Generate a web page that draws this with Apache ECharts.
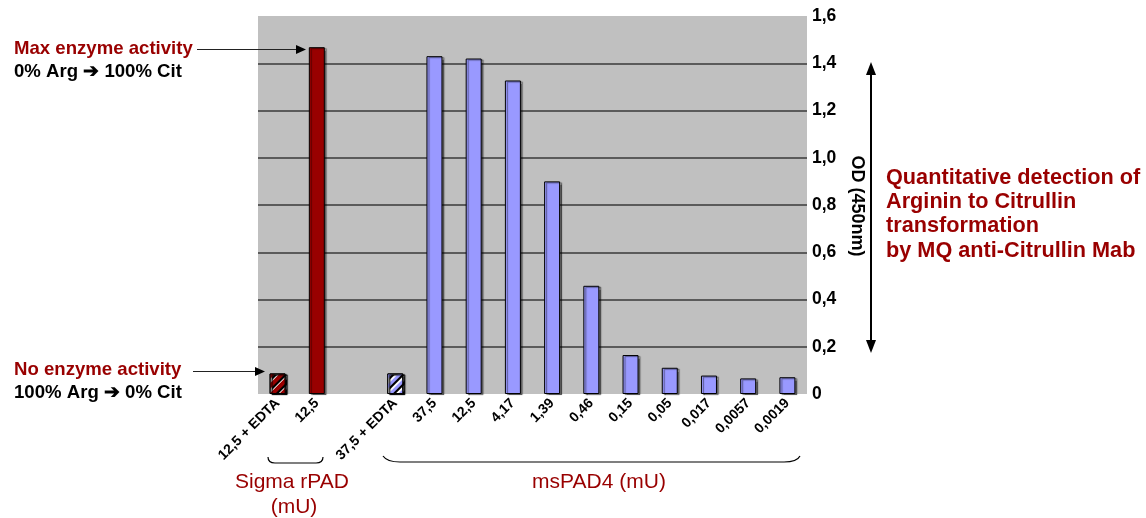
<!DOCTYPE html>
<html>
<head>
<meta charset="utf-8">
<script src="https://cdn.jsdelivr.net/npm/echarts@6/dist/echarts.min.js"></script>
<style>
html,body{margin:0;padding:0;background:#fff;}
#chart{width:1146px;height:518px;}
</style>
</head>
<body>
<div id="chart"></div>
<script>
// ---- data ----
const categories = ['12,5 + EDTA', '12,5', '', '37,5 + EDTA', '37,5', '12,5', '4,17', '1,39', '0,46', '0,15', '0,05', '0,017', '0,0057', '0,0019'];
const odValues   = [0.087, 1.468, null, 0.087, 1.43, 1.42, 1.327, 0.90, 0.458, 0.165, 0.111, 0.078, 0.066, 0.071];
const barKinds   = ['redHatch', 'red', 'none', 'blueHatch', 'blue', 'blue', 'blue', 'blue', 'blue', 'blue', 'blue', 'blue', 'blue', 'blue'];
const yMin = 0, yMax = 1.6, yStep = 0.2;

const FONT = '"Liberation Sans", Arial, Helvetica, sans-serif';
const RED = '#990000', BLUE = '#9999ff';

function styleFor(kind) {
  const base = { borderColor: '#000', borderWidth: 1, shadowColor: 'rgba(0,0,0,0.45)', shadowOffsetX: 2, shadowOffsetY: 1, shadowBlur: 1 };
  if (kind === 'red') return Object.assign({ color: RED }, base);
  if (kind === 'blue') return Object.assign({ color: BLUE }, base);
  if (kind === 'redHatch') return Object.assign({ color: '#ffffff', decal: { symbol: 'rect', symbolSize: 1, dashArrayX: [1, 0], dashArrayY: [4, 3], rotation: -Math.PI / 4, color: RED } }, base);
  if (kind === 'blueHatch') return Object.assign({ color: '#ffffff', decal: { symbol: 'rect', symbolSize: 1, dashArrayX: [1, 0], dashArrayY: [3, 4], rotation: -Math.PI / 4, color: BLUE } }, base);
  return base;
}

const seriesData = odValues.map((v, i) => ({ value: v, itemStyle: styleFor(barKinds[i]) }));
const nLines = Math.round((yMax - yMin) / yStep) + 1;
const splitColors = [];
for (let i = 0; i < nLines; i++) splitColors.push(i === 0 || i === nLines - 1 ? 'rgba(0,0,0,0)' : '#3a3a3a');

const chart = echarts.init(document.getElementById('chart'), null, { renderer: 'canvas' });

function txt(text, x, y, size, color, bold, align) {
  return {
    type: 'text', x: x, y: y, silent: true,
    style: { text: text, font: (bold ? 'bold ' : '') + size + 'px ' + FONT, fill: color, textAlign: align || 'left', textVerticalAlign: 'middle' }
  };
}
function seg(x1, y1, x2, y2, w, c) {
  return { type: 'line', silent: true, shape: { x1: x1, y1: y1, x2: x2, y2: y2 }, style: { stroke: c || '#000', lineWidth: w || 1.2 } };
}
function curve(x1, y1, cx, cy, x2, y2) {
  return { type: 'bezierCurve', silent: true, shape: { x1: x1, y1: y1, cpx1: cx, cpy1: cy, x2: x2, y2: y2 }, style: { stroke: '#000', lineWidth: 1.2, fill: null } };
}

chart.setOption({
  animation: false,
  backgroundColor: '#ffffff',
  grid: { left: 258, right: 339, top: 16, bottom: 124, show: true, backgroundColor: '#c0c0c0', borderWidth: 0 },
  xAxis: {
    type: 'category',
    data: categories,
    axisLine: { show: false },
    axisTick: { show: false },
    axisLabel: { interval: 0, rotate: 45, margin: 7, color: '#000', fontWeight: 'bold', fontSize: 14, fontFamily: FONT }
  },
  yAxis: {
    type: 'value', position: 'right', min: yMin, max: yMax, interval: yStep,
    axisLine: { show: false },
    axisTick: { show: false },
    axisLabel: { margin: 5, color: '#000', fontWeight: 'bold', fontSize: 17.5, fontFamily: FONT,
      formatter: v => v === 0 ? '0' : v.toFixed(1).replace('.', ',') },
    splitLine: { show: true, lineStyle: { color: splitColors, width: 1.5 } }
  },
  series: [{
    type: 'bar', data: seriesData, barWidth: 16
  }],
  graphic: [
    // OD axis title
    { type: 'text', x: 857, y: 206, rotation: -Math.PI / 2, silent: true,
      style: { text: 'OD (450nm)', font: 'bold 18px ' + FONT, fill: '#000', textAlign: 'center', textVerticalAlign: 'middle' } },
    // vertical double arrow
    seg(871, 72, 871, 343, 2),
    { type: 'polygon', silent: true, shape: { points: [[871, 62], [866, 75], [876, 75]] }, style: { fill: '#000' } },
    { type: 'polygon', silent: true, shape: { points: [[871, 353], [866, 340], [876, 340]] }, style: { fill: '#000' } },
    // right description
    txt('Quantitative detection of', 886, 178, 21.7, RED, true),
    txt('Arginin to Citrullin', 886, 202, 21.7, RED, true),
    txt('transformation', 886, 226, 21.7, RED, true),
    txt('by MQ anti-Citrullin Mab', 886, 251, 21.7, RED, true),
    // left annotations
    txt('Max enzyme activity', 14, 49, 18.6, RED, true),
    txt('0% Arg \u2794 100% Cit', 14, 72, 18.6, '#000', true),
    seg(197, 49.5, 298, 49.5, 1.2, '#222'),
    { type: 'polygon', silent: true, shape: { points: [[296, 45], [306, 49.5], [296, 54]] }, style: { fill: '#000' } },
    txt('No enzyme activity', 14, 370, 18.6, RED, true),
    txt('100% Arg \u2794 0% Cit', 14, 393, 18.6, '#000', true),
    seg(193, 371.5, 257, 371.5, 1.2, '#222'),
    { type: 'polygon', silent: true, shape: { points: [[255, 367], [265, 371.5], [255, 376]] }, style: { fill: '#000' } },
    // braces
    curve(268, 457, 268, 463, 275, 463),
    seg(275, 463, 316, 463),
    curve(316, 463, 323, 463, 323, 457),
    curve(383, 456, 387, 462, 400, 462),
    seg(400, 462, 784, 462),
    curve(784, 462, 797, 462, 800, 456),
    // group labels
    txt('Sigma rPAD', 292, 482, 21, RED, false, 'center'),
    txt('(mU)', 294, 507, 21, RED, false, 'center'),
    txt('msPAD4 (mU)', 599, 482, 21, RED, false, 'center')
  ]
});
</script>
</body>
</html>
